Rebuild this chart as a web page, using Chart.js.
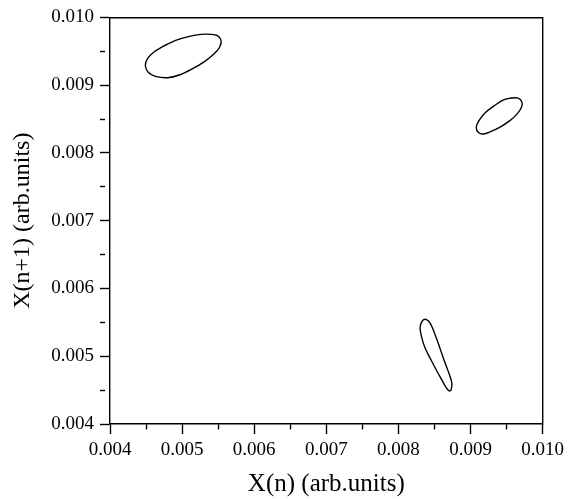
<!DOCTYPE html>
<html>
<head>
<meta charset="utf-8">
<script src="https://cdn.jsdelivr.net/npm/chart.js@4/dist/chart.umd.min.js"></script>
<style>
  html, body { margin: 0; padding: 0; background: #fff; }
  #wrap { width: 569px; height: 499px; }
</style>
</head>
<body>
<div id="wrap"><canvas id="mapChart"></canvas></div>
<script>
// Tick labels of both axes
const xTickLabels = ['0.004', '0.005', '0.006', '0.007', '0.008', '0.009', '0.010'];
const yTickLabels = ['0.004', '0.005', '0.006', '0.007', '0.008', '0.009', '0.010'];

// Loop 1 (top left) - starts on the upper edge so the closing joint is on a flat part
const loop1X = [0.00475, 0.00491, 0.00510, 0.00526, 0.00540, 0.00549, 0.00554, 0.00552, 0.00544, 0.00530,
                0.00514, 0.00496, 0.00480, 0.00463, 0.00453, 0.00449, 0.00452, 0.00461, 0.00475];
const loop1Y = [0.00958, 0.00966, 0.00972, 0.00975, 0.00975, 0.00973, 0.00966, 0.00956, 0.00946, 0.00934,
                0.00924, 0.00915, 0.00911, 0.00913, 0.00919, 0.00929, 0.00939, 0.00949, 0.00958];

// Loop 2 (right)
const loop2X = [0.00932, 0.00945, 0.00957, 0.00966, 0.00971, 0.00971, 0.00965, 0.00955, 0.00941,
                0.00927, 0.00918, 0.00911, 0.00908, 0.00912, 0.00920, 0.00932];
const loop2Y = [0.00869, 0.00878, 0.00881, 0.00881, 0.00876, 0.00868, 0.00858, 0.00848, 0.00838,
                0.00831, 0.00828, 0.00830, 0.00838, 0.00848, 0.00859, 0.00869];

// Loop 3 (bottom)
const loop3X = [0.00856, 0.00862, 0.00869, 0.00874, 0.00873, 0.00870, 0.00865, 0.00856, 0.00846,
                0.00837, 0.00832, 0.00830, 0.00832, 0.00835, 0.00839, 0.00844, 0.00849, 0.00856];
const loop3Y = [0.00517, 0.00498, 0.00478, 0.00461, 0.00450, 0.00449, 0.00456, 0.00473, 0.00493,
                0.00512, 0.00529, 0.00542, 0.00550, 0.00554, 0.00554, 0.00549, 0.00537, 0.00517];

function toPoints(xs, ys) {
  return xs.map((x, i) => ({ x: x, y: ys[i] }));
}

const serif = '"Liberation Serif", "Times New Roman", serif';

function loopDataset(xs, ys) {
  return {
    data: toPoints(xs, ys),
    showLine: true,
    borderColor: '#000',
    borderWidth: 1.4,
    pointRadius: 0,
    tension: 0.35,
  };
}

// ticks every 0.0005, only every second one is labelled (long tick), the rest are short
const tickGrid = {
  drawOnChartArea: false,
  tickLength: 10,
  tickColor: '#000',
  tickWidth: 1.4,
  tickBorderDash: (ctx) => (ctx.index % 2 ? [5, 30] : []),
};

// plain frame line, no ticks
const frameAxis = (position) => ({
  type: 'linear',
  position: position,
  min: 0.004,
  max: 0.010,
  ticks: { display: false },
  grid: { display: false, drawTicks: false },
  border: { display: true, color: '#000', width: 1.4 },
});

const ctx = document.getElementById('mapChart').getContext('2d');
const chart = new Chart(ctx, {
  type: 'scatter',
  data: {
    datasets: [
      loopDataset(loop1X, loop1Y),
      loopDataset(loop2X, loop2Y),
      loopDataset(loop3X, loop3Y),
    ],
  },
  options: {
    responsive: true,
    maintainAspectRatio: false,
    animation: false,
    layout: { padding: { left: 0, top: 15, right: 25, bottom: 0 } },
    plugins: { legend: { display: false }, tooltip: { enabled: false } },
    scales: {
      x: {
        type: 'linear',
        position: 'bottom',
        min: 0.004,
        max: 0.010,
        afterFit: (scale) => { scale.height = 75; },
        ticks: {
          stepSize: 0.0005,
          autoSkip: false,
          maxRotation: 0,
          padding: 5,
          color: '#000',
          font: { family: serif, size: 19 },
          callback: (value, index) => (index % 2 === 0 ? xTickLabels[index / 2] : ''),
        },
        grid: tickGrid,
        border: { display: true, color: '#000', width: 1.4 },
        title: {
          display: true,
          text: 'X(n) (arb.units)',
          color: '#000',
          font: { family: serif, size: 25 },
          padding: { top: 0, bottom: 0 },
        },
      },
      y: {
        type: 'linear',
        position: 'left',
        min: 0.004,
        max: 0.010,
        afterFit: (scale) => { scale.width = 110; },
        ticks: {
          stepSize: 0.0005,
          autoSkip: false,
          padding: 6,
          color: '#000',
          font: { family: serif, size: 19 },
          callback: (value, index) => (index % 2 === 0 ? yTickLabels[index / 2] : ''),
        },
        grid: tickGrid,
        border: { display: true, color: '#000', width: 1.4 },
        title: {
          display: true,
          text: 'X(n+1) (arb.units)',
          color: '#000',
          font: { family: serif, size: 24 },
          padding: { top: 8, bottom: 0 },
        },
      },
      x2: frameAxis('top'),
      y2: frameAxis('right'),
    },
  },
});
</script>
</body>
</html>
